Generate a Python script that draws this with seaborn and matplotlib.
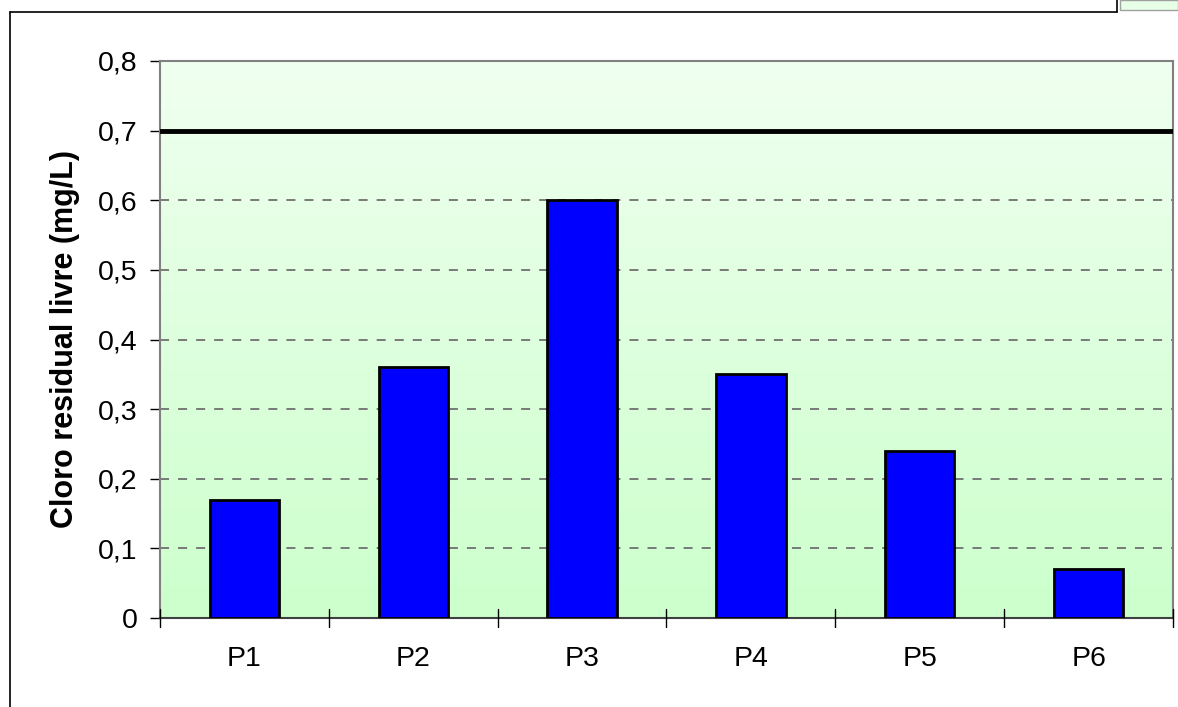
import numpy as np
import pandas as pd
import matplotlib
matplotlib.use('Agg')
import matplotlib.pyplot as plt
import seaborn as sns
from matplotlib.lines import Line2D
from matplotlib.patches import Rectangle
from matplotlib.colors import LinearSegmentedColormap

# Données
pontos = ['P1', 'P2', 'P3', 'P4', 'P5', 'P6']
cloro = [0.17, 0.36, 0.60, 0.35, 0.24, 0.07]
limite = 0.7
yticks = [0, 0.1, 0.2, 0.3, 0.4, 0.5, 0.6, 0.7, 0.8]
ytick_labels = ['0', '0,1', '0,2', '0,3', '0,4', '0,5', '0,6', '0,7', '0,8']

df = pd.DataFrame({'Ponto': pontos, 'Cloro': cloro})

sns.set_style('white')
plt.rcParams['font.family'] = ['Liberation Sans', 'DejaVu Sans']
plt.rcParams['text.color'] = 'black'
plt.rcParams['axes.labelcolor'] = 'black'
plt.rcParams['xtick.color'] = 'black'
plt.rcParams['ytick.color'] = 'black'

fig = plt.figure(figsize=(11.78, 7.07), dpi=100)
ax = fig.add_axes([160 / 1178, 1 - 618 / 707, (1173 - 160) / 1178, (618 - 61) / 707])

# fond dégradé (blanc -> vert clair)
cmap = LinearSegmentedColormap.from_list('bg', ['#f0fff0', '#ccffcc'])
grad = np.linspace(0, 1, 256).reshape(-1, 1)
ax.imshow(grad, cmap=cmap, aspect='auto', extent=[0, 1, 0, 1],
          transform=ax.transAxes, zorder=0)

sns.barplot(data=df, x='Ponto', y='Cloro', color='#0000ff', saturation=1,
            width=0.41, edgecolor='black', linewidth=2, ax=ax, zorder=3)

# grille pointillée
for t in yticks[1:-1]:
    if t != limite:
        ax.axhline(t, color='#707070', linestyle=(0, (5, 5)), linewidth=1.3, zorder=1)
ax.axhline(limite, color='black', linewidth=3.5, zorder=4)

ax.set_xlim(-0.5, len(pontos) - 0.5)
ax.set_ylim(0, 0.8)
ax.set_yticks(yticks)
ax.set_yticklabels(ytick_labels, fontsize=20.5)
ax.set_xticks(range(len(pontos)))
ax.set_xticklabels(pontos, fontsize=20.5)
ax.tick_params(axis='x', length=0, pad=20)
ax.tick_params(axis='y', direction='out', length=7, width=1, color='black', left=True, pad=9)

# ticks entre catégories
for b in np.arange(-0.5, len(pontos), 1.0):
    ax.plot([b, b], [-0.013, 0.013], color='black', lw=1, clip_on=False, zorder=5)

ax.set_xlabel('')
ax.set_ylabel('Cloro residual livre (mg/L)', fontsize=22, fontweight='bold', labelpad=13)

for s in ['left', 'top', 'right']:
    ax.spines[s].set_color('#808080')
    ax.spines[s].set_linewidth(1.5)
ax.spines['bottom'].set_color('#404040')
ax.spines['bottom'].set_linewidth(1.5)

# cadre du graphique
fig.add_artist(Line2D([10 / 1178, 10 / 1178], [0, 1 - 12 / 707], color='black', lw=1.2))
fig.add_artist(Line2D([10 / 1178, 1117 / 1178], [1 - 12 / 707, 1 - 12 / 707], color='black', lw=1.2))
fig.add_artist(Line2D([1117 / 1178, 1117 / 1178], [1 - 12 / 707, 1], color='black', lw=1.2))
fig.add_artist(Rectangle((1120 / 1178, 1 - 10 / 707), 58 / 1178, 10 / 707,
                         facecolor='#e6ffe6', edgecolor='#a0a0a0', lw=1))

plt.savefig('out.png', dpi=100)
plt.close()
